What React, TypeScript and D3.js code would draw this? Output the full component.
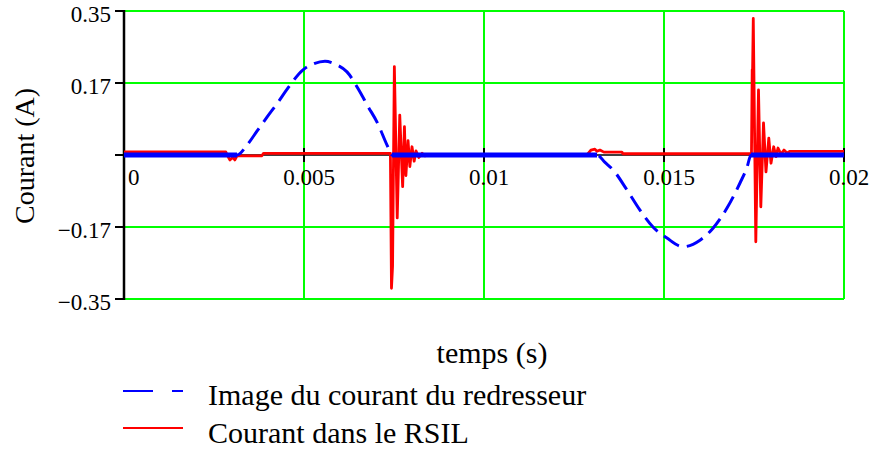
import { useRef, useEffect } from 'react'
import * as d3 from 'd3'

// axis ticks (Mathcad style labels)
const timeTicks = [0, 0.005, 0.01, 0.015, 0.02]
const timeTickLabels = ["0", "0.005", "0.01", "0.015", "0.02"]
const currentTicks = [0.35, 0.175, 0, -0.175, -0.35]
const currentTickLabels = ["0.35", "0.17", "", "\u22120.17", "\u22120.35"]

// Image du courant du redresseur (blue, dashed)
const redresseurT = [
  0, 0.00314, 0.003417, 0.003694, 0.003972, 0.004278, 0.004556, 0.004972, 0.005278,
  0.005583, 0.005889, 0.006194, 0.006556, 0.006778, 0.007028, 0.007333, 0.007444,
  0.01314, 0.013361, 0.013583, 0.013972, 0.014333, 0.014694, 0.015083, 0.015528,
  0.016, 0.016361, 0.01675, 0.017111, 0.017306, 0.017417, 0.02,
]
const redresseurI = [
  0, 0, 0.024, 0.058, 0.092, 0.128, 0.163, 0.207, 0.222,
  0.228, 0.22, 0.202, 0.153, 0.118, 0.08, 0.019, 0,
  0, -0.018, -0.036, -0.085, -0.134, -0.175, -0.202, -0.223,
  -0.207, -0.178, -0.129, -0.068, -0.03, 0, 0,
]

// Courant dans le RSIL (red)
const rsilT = [
  0, 0.00283, 0.00289, 0.00294, 0.00303, 0.00308, 0.00314, 0.00383, 0.003875,
  0.0074, 0.00743, 0.00746, 0.00751, 0.00759, 0.00766, 0.00774, 0.00779, 0.00783,
  0.00789, 0.00794, 0.008, 0.00806, 0.00811, 0.00819, 0.00828, 0.00836, 0.00844,
  0.01286, 0.01297, 0.01308, 0.01314, 0.01322, 0.01333, 0.01383, 0.01386,
  0.01743, 0.01745, 0.01746, 0.01748, 0.01755, 0.017625, 0.017689, 0.017764,
  0.017833, 0.017911, 0.017972, 0.018047, 0.018111, 0.018167, 0.01825, 0.018333,
  0.018417, 0.0185, 0.02,
]
const rsilI = [
  0.0073, 0.0073, -0.004, -0.012, -0.006, -0.012, -0.002, -0.002, 0.004,
  0.004, -0.324, -0.27, 0.215, -0.153, 0.097, -0.077, 0.069, -0.05,
  0.035, -0.028, 0.02, -0.015, 0.01, -0.006, 0.004, -0.002, 0,
  0, 0.012, 0.014, 0.009, 0.012, 0.007, 0.007, 0.003,
  0.003, 0.207, 0.2, 0.332, -0.211, 0.158, -0.126, 0.078,
  -0.041, 0.041, -0.02, 0.02, -0.004, 0.017, 0.002, 0.012,
  0.005, 0.009, 0.009,
]

const legendLabels = ["Image du courant du redresseur", "Courant dans le RSIL"]

const W = 872
const H = 450
const FONT = "'Liberation Serif', 'Times New Roman', serif"

export default function App() {
  const svgRef = useRef<SVGSVGElement>(null)

  useEffect(() => {
    if (!svgRef.current) return
    const svg = d3.select(svgRef.current)
    svg.selectAll("*").remove()

    const x = d3.scaleLinear().domain([0, 0.02]).range([124, 844])
    const y = d3.scaleLinear().domain([-0.35, 0.35]).range([299, 11])
    const [x0, x1] = x.range()
    const [yb, yt] = y.range()

    // green grid
    const grid = svg.append("g").attr("stroke", "#00ff00").attr("stroke-width", 2)
    timeTicks.filter(t => t !== 0).forEach(t => {
      grid.append("line").attr("x1", x(t)).attr("x2", x(t)).attr("y1", yt).attr("y2", yb)
    })
    currentTicks.filter(v => v !== 0).forEach(v => {
      grid.append("line").attr("x1", x0).attr("x2", x1).attr("y1", y(v)).attr("y2", y(v))
    })

    // axes
    svg.append("line")
      .attr("x1", x0).attr("x2", x0).attr("y1", yt - 1).attr("y2", yb + 1)
      .attr("stroke", "#000").attr("stroke-width", 2.5)
    svg.append("line")
      .attr("x1", x0).attr("x2", x1).attr("y1", y(0)).attr("y2", y(0))
      .attr("stroke", "#000").attr("stroke-width", 1.5)

    // y ticks + labels
    currentTicks.forEach((v, i) => {
      svg.append("line")
        .attr("x1", x0 - 9).attr("x2", x0).attr("y1", y(v)).attr("y2", y(v))
        .attr("stroke", "#000").attr("stroke-width", 2)
      if (currentTickLabels[i]) {
        svg.append("text")
          .attr("x", x0 - 13).attr("y", y(v) + 3)
          .attr("text-anchor", "end").attr("dominant-baseline", "central")
          .style("font-family", FONT).style("font-size", "23px")
          .text(currentTickLabels[i])
      }
    })

    // x ticks + labels
    timeTicks.forEach((t, i) => {
      if (t !== 0) {
        svg.append("line")
          .attr("x1", x(t)).attr("x2", x(t)).attr("y1", y(0) - 7).attr("y2", y(0) + 7)
          .attr("stroke", "#000").attr("stroke-width", 2)
      }
      svg.append("text")
        .attr("x", i === 0 ? x(t) + 4 : x(t) + 5).attr("y", y(0) + 30)
        .attr("text-anchor", i === 0 ? "start" : "middle")
        .style("font-family", FONT).style("font-size", "23px")
        .text(timeTickLabels[i])
    })

    // red series
    const rsil = rsilT.map((t, i) => [t, rsilI[i]] as [number, number])
    svg.append("path")
      .datum(rsil)
      .attr("fill", "none").attr("stroke", "#ff0000").attr("stroke-width", 2.8)
      .attr("stroke-linejoin", "round")
      .attr("d", d3.line<[number, number]>().x(d => x(d[0])).y(d => y(d[1])))

    // blue series: flat (solid, thick) parts and dashed curve
    const redr = redresseurT.map((t, i) => [t, redresseurI[i]] as [number, number])
    for (let i = 1; i < redr.length; i++) {
      if (redr[i - 1][1] === 0 && redr[i][1] === 0) {
        svg.append("line")
          .attr("x1", x(redr[i - 1][0])).attr("x2", x(redr[i][0]))
          .attr("y1", y(0)).attr("y2", y(0))
          .attr("stroke", "#0000ff").attr("stroke-width", 5)
      }
    }
    svg.append("path")
      .datum(redr)
      .attr("fill", "none").attr("stroke", "#0000ff").attr("stroke-width", 3)
      .attr("stroke-dasharray", "18,8")
      .attr("d", d3.line<[number, number]>().x(d => x(d[0])).y(d => y(d[1])).curve(d3.curveMonotoneX))

    // axis titles
    svg.append("text")
      .attr("x", 492).attr("y", 363)
      .attr("text-anchor", "middle")
      .style("font-family", FONT).style("font-size", "30px")
      .text("temps (s)")
    svg.append("text")
      .attr("transform", `translate(34,156) rotate(-90)`)
      .attr("text-anchor", "middle")
      .style("font-family", FONT).style("font-size", "28px")
      .text("Courant (A)")

    // legend
    const legend = svg.append("g")
    legend.append("line")
      .attr("x1", 123).attr("x2", 183).attr("y1", 391).attr("y2", 391)
      .attr("stroke", "#0000ff").attr("stroke-width", 2).attr("stroke-dasharray", "30,19")
    legend.append("line")
      .attr("x1", 123).attr("x2", 183).attr("y1", 428).attr("y2", 428)
      .attr("stroke", "#ff0000").attr("stroke-width", 2)
    legendLabels.forEach((label, i) => {
      legend.append("text")
        .attr("x", 208).attr("y", 405 + i * 38)
        .style("font-family", FONT).style("font-size", "30px")
        .text(label)
    })
  }, [])

  return (
    <svg
      ref={svgRef}
      width={W}
      height={H}
      style={{ position: 'absolute', left: 0, top: 0, background: '#fff' }}
    />
  )
}
